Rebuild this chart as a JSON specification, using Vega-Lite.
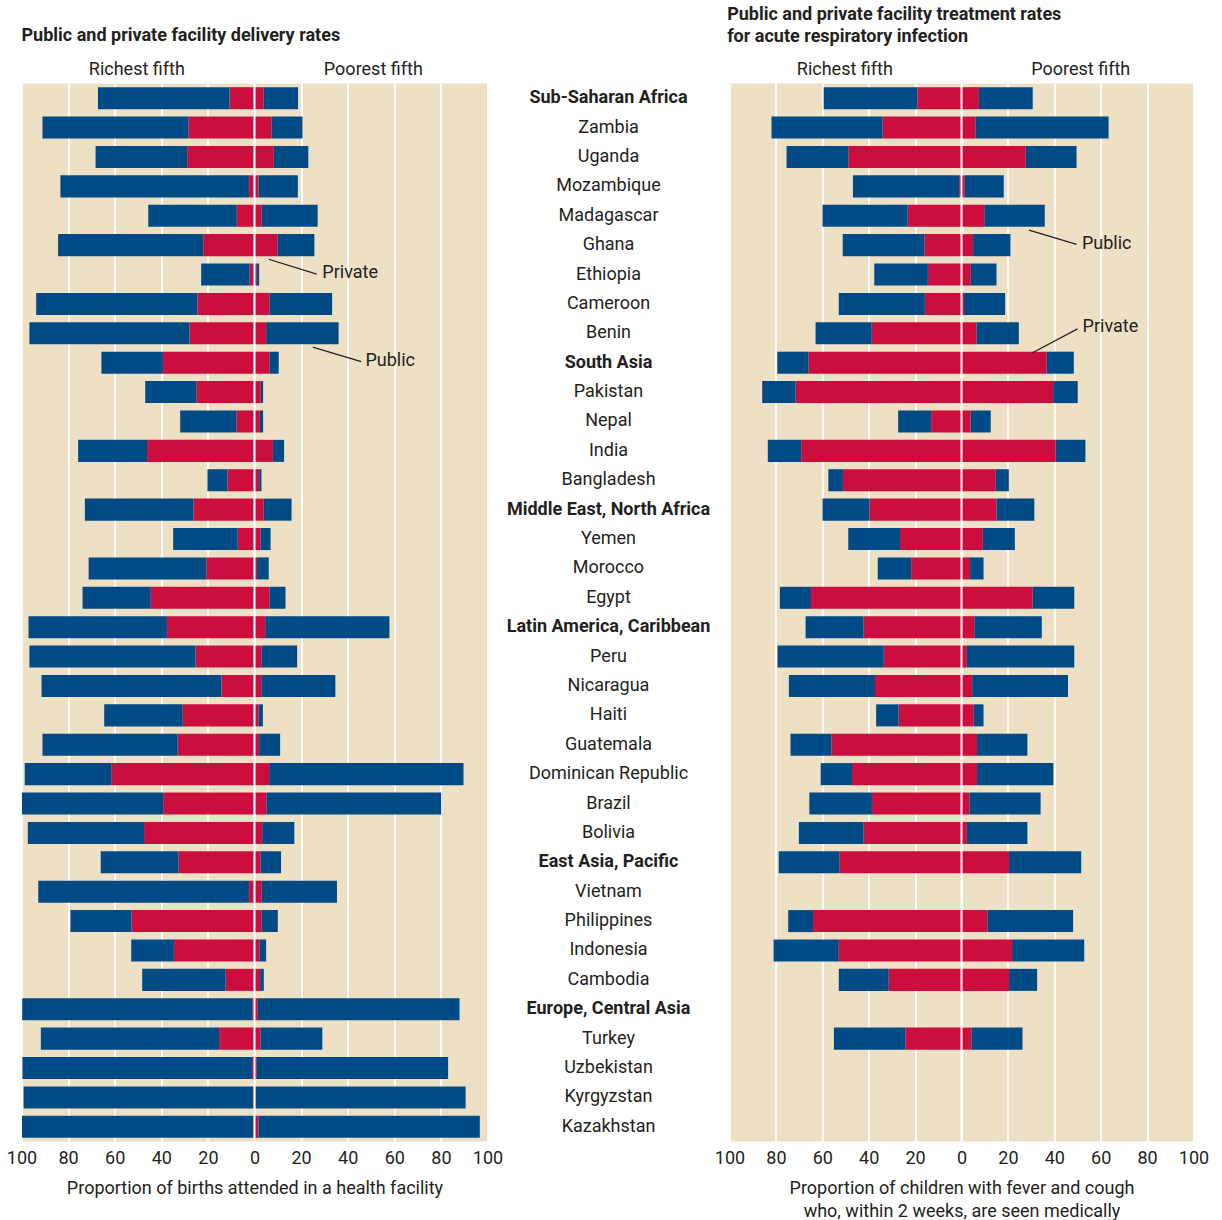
{
  "$schema": "https://vega.github.io/schema/vega-lite/v6.json",
  "padding": {"left": 5.5, "top": 5.5, "right": 4, "bottom": 4},
  "bounds": "flush",
  "spacing": 0,
  "background": "#FFFFFF",
  "config": {
    "font": "Roboto",
    "view": {"stroke": null},
    "axis": {"labelFont": "Roboto", "titleFont": "Roboto", "labelFontSize": 18, "labelColor": "#231F20", "titleFontSize": 18, "titleFontWeight": "normal", "titleColor": "#231F20"},
    "text": {"font": "Roboto", "fontSize": 18, "color": "#231F20"}
  },
  "datasets": {
    "names": [
      {"name": "Sub-Saharan Africa", "level": "region"},
      {"name": "Zambia", "level": "country"},
      {"name": "Uganda", "level": "country"},
      {"name": "Mozambique", "level": "country"},
      {"name": "Madagascar", "level": "country"},
      {"name": "Ghana", "level": "country"},
      {"name": "Ethiopia", "level": "country"},
      {"name": "Cameroon", "level": "country"},
      {"name": "Benin", "level": "country"},
      {"name": "South Asia", "level": "region"},
      {"name": "Pakistan", "level": "country"},
      {"name": "Nepal", "level": "country"},
      {"name": "India", "level": "country"},
      {"name": "Bangladesh", "level": "country"},
      {"name": "Middle East, North Africa", "level": "region"},
      {"name": "Yemen", "level": "country"},
      {"name": "Morocco", "level": "country"},
      {"name": "Egypt", "level": "country"},
      {"name": "Latin America, Caribbean", "level": "region"},
      {"name": "Peru", "level": "country"},
      {"name": "Nicaragua", "level": "country"},
      {"name": "Haiti", "level": "country"},
      {"name": "Guatemala", "level": "country"},
      {"name": "Dominican Republic", "level": "country"},
      {"name": "Brazil", "level": "country"},
      {"name": "Bolivia", "level": "country"},
      {"name": "East Asia, Pacific", "level": "region"},
      {"name": "Vietnam", "level": "country"},
      {"name": "Philippines", "level": "country"},
      {"name": "Indonesia", "level": "country"},
      {"name": "Cambodia", "level": "country"},
      {"name": "Europe, Central Asia", "level": "region"},
      {"name": "Turkey", "level": "country"},
      {"name": "Uzbekistan", "level": "country"},
      {"name": "Kyrgyzstan", "level": "country"},
      {"name": "Kazakhstan", "level": "country"}
    ],
    "delivery": [
      {"country": "Sub-Saharan Africa", "rich_private": -10.7, "rich_public": -56.5, "poor_private": 3.9, "poor_public": 14.8},
      {"country": "Zambia", "rich_private": -28.3, "rich_public": -62.7, "poor_private": 7.3, "poor_public": 13.3},
      {"country": "Uganda", "rich_private": -28.9, "rich_public": -39.3, "poor_private": 8.3, "poor_public": 14.8},
      {"country": "Mozambique", "rich_private": -2.4, "rich_public": -80.9, "poor_private": 1.7, "poor_public": 16.9},
      {"country": "Madagascar", "rich_private": -7.6, "rich_public": -38.0, "poor_private": 3.1, "poor_public": 24.0},
      {"country": "Ghana", "rich_private": -22.0, "rich_public": -62.3, "poor_private": 9.9, "poor_public": 15.8},
      {"country": "Ethiopia", "rich_private": -2.1, "rich_public": -20.8, "poor_private": 1.0, "poor_public": 1.0},
      {"country": "Cameroon", "rich_private": -24.5, "rich_public": -69.2, "poor_private": 6.4, "poor_public": 26.9},
      {"country": "Benin", "rich_private": -27.9, "rich_public": -68.7, "poor_private": 5.0, "poor_public": 31.1},
      {"country": "South Asia", "rich_private": -39.3, "rich_public": -26.4, "poor_private": 6.4, "poor_public": 4.0},
      {"country": "Pakistan", "rich_private": -24.9, "rich_public": -22.0, "poor_private": 2.7, "poor_public": 1.0},
      {"country": "Nepal", "rich_private": -7.7, "rich_public": -24.2, "poor_private": 2.3, "poor_public": 1.4},
      {"country": "India", "rich_private": -46.1, "rich_public": -29.6, "poor_private": 7.9, "poor_public": 4.8},
      {"country": "Bangladesh", "rich_private": -11.6, "rich_public": -8.6, "poor_private": 2.0, "poor_public": 1.0},
      {"country": "Middle East, North Africa", "rich_private": -26.2, "rich_public": -46.6, "poor_private": 3.9, "poor_public": 12.0},
      {"country": "Yemen", "rich_private": -7.2, "rich_public": -27.7, "poor_private": 2.6, "poor_public": 4.3},
      {"country": "Morocco", "rich_private": -20.7, "rich_public": -50.5, "poor_private": 1.1, "poor_public": 5.0},
      {"country": "Egypt", "rich_private": -44.5, "rich_public": -29.3, "poor_private": 6.4, "poor_public": 6.9},
      {"country": "Latin America, Caribbean", "rich_private": -37.6, "rich_public": -59.4, "poor_private": 4.6, "poor_public": 53.3},
      {"country": "Peru", "rich_private": -25.3, "rich_public": -71.3, "poor_private": 3.0, "poor_public": 15.3},
      {"country": "Nicaragua", "rich_private": -14.2, "rich_public": -77.2, "poor_private": 2.9, "poor_public": 31.8},
      {"country": "Haiti", "rich_private": -30.8, "rich_public": -33.7, "poor_private": 1.7, "poor_public": 1.9},
      {"country": "Guatemala", "rich_private": -33.0, "rich_public": -58.0, "poor_private": 2.0, "poor_public": 9.0},
      {"country": "Dominican Republic", "rich_private": -61.5, "rich_public": -37.1, "poor_private": 6.3, "poor_public": 83.4},
      {"country": "Brazil", "rich_private": -39.2, "rich_public": -60.6, "poor_private": 5.1, "poor_public": 75.0},
      {"country": "Bolivia", "rich_private": -47.4, "rich_public": -49.9, "poor_private": 3.3, "poor_public": 13.8},
      {"country": "East Asia, Pacific", "rich_private": -32.6, "rich_public": -33.4, "poor_private": 2.6, "poor_public": 8.8},
      {"country": "Vietnam", "rich_private": -2.4, "rich_public": -90.4, "poor_private": 3.1, "poor_public": 32.3},
      {"country": "Philippines", "rich_private": -52.8, "rich_public": -26.2, "poor_private": 3.0, "poor_public": 7.0},
      {"country": "Indonesia", "rich_private": -34.6, "rich_public": -18.3, "poor_private": 2.1, "poor_public": 2.9},
      {"country": "Cambodia", "rich_private": -12.4, "rich_public": -35.8, "poor_private": 2.4, "poor_public": 1.6},
      {"country": "Europe, Central Asia", "rich_private": -1.0, "rich_public": -98.7, "poor_private": 1.4, "poor_public": 86.6},
      {"country": "Turkey", "rich_private": -15.2, "rich_public": -76.5, "poor_private": 2.6, "poor_public": 26.5},
      {"country": "Uzbekistan", "rich_private": -1.1, "rich_public": -98.5, "poor_private": 1.0, "poor_public": 82.1},
      {"country": "Kyrgyzstan", "rich_private": -0.4, "rich_public": -98.7, "poor_private": 0.5, "poor_public": 90.1},
      {"country": "Kazakhstan", "rich_private": -0.4, "rich_public": -99.4, "poor_private": 1.7, "poor_public": 95.0}
    ],
    "treatment": [
      {"country": "Sub-Saharan Africa", "rich_private": -19.0, "rich_public": -40.4, "poor_private": 7.5, "poor_public": 23.2},
      {"country": "Zambia", "rich_private": -34.0, "rich_public": -47.9, "poor_private": 6.0, "poor_public": 57.4},
      {"country": "Uganda", "rich_private": -48.8, "rich_public": -26.6, "poor_private": 27.7, "poor_public": 21.9},
      {"country": "Mozambique", "rich_private": -1.0, "rich_public": -45.8, "poor_private": 1.4, "poor_public": 16.8},
      {"country": "Madagascar", "rich_private": -23.2, "rich_public": -36.7, "poor_private": 9.8, "poor_public": 26.1},
      {"country": "Ghana", "rich_private": -16.0, "rich_public": -35.2, "poor_private": 5.0, "poor_public": 16.1},
      {"country": "Ethiopia", "rich_private": -14.5, "rich_public": -23.1, "poor_private": 4.0, "poor_public": 11.1},
      {"country": "Cameroon", "rich_private": -15.8, "rich_public": -37.1, "poor_private": 1.1, "poor_public": 17.7},
      {"country": "Benin", "rich_private": -38.7, "rich_public": -24.2, "poor_private": 6.5, "poor_public": 18.2},
      {"country": "South Asia", "rich_private": -66.0, "rich_public": -13.4, "poor_private": 36.7, "poor_public": 11.7},
      {"country": "Pakistan", "rich_private": -71.5, "rich_public": -14.4, "poor_private": 39.5, "poor_public": 10.6},
      {"country": "Nepal", "rich_private": -13.1, "rich_public": -14.2, "poor_private": 3.9, "poor_public": 8.7},
      {"country": "India", "rich_private": -69.1, "rich_public": -14.4, "poor_private": 40.6, "poor_public": 12.8},
      {"country": "Bangladesh", "rich_private": -51.1, "rich_public": -6.3, "poor_private": 14.8, "poor_public": 5.6},
      {"country": "Middle East, North Africa", "rich_private": -39.7, "rich_public": -20.2, "poor_private": 15.1, "poor_public": 16.3},
      {"country": "Yemen", "rich_private": -26.5, "rich_public": -22.3, "poor_private": 9.2, "poor_public": 13.8},
      {"country": "Morocco", "rich_private": -21.7, "rich_public": -14.4, "poor_private": 3.7, "poor_public": 5.8},
      {"country": "Egypt", "rich_private": -64.9, "rich_public": -13.4, "poor_private": 30.7, "poor_public": 17.9},
      {"country": "Latin America, Caribbean", "rich_private": -42.2, "rich_public": -25.0, "poor_private": 5.5, "poor_public": 29.1},
      {"country": "Peru", "rich_private": -33.5, "rich_public": -45.8, "poor_private": 2.3, "poor_public": 46.3},
      {"country": "Nicaragua", "rich_private": -37.3, "rich_public": -37.1, "poor_private": 4.6, "poor_public": 41.3},
      {"country": "Haiti", "rich_private": -27.1, "rich_public": -9.7, "poor_private": 5.3, "poor_public": 4.2},
      {"country": "Guatemala", "rich_private": -56.1, "rich_public": -17.6, "poor_private": 6.7, "poor_public": 21.7},
      {"country": "Dominican Republic", "rich_private": -47.2, "rich_public": -13.5, "poor_private": 6.7, "poor_public": 32.9},
      {"country": "Brazil", "rich_private": -38.6, "rich_public": -27.0, "poor_private": 3.4, "poor_public": 30.7},
      {"country": "Bolivia", "rich_private": -42.2, "rich_public": -27.9, "poor_private": 2.3, "poor_public": 26.1},
      {"country": "East Asia, Pacific", "rich_private": -52.7, "rich_public": -26.1, "poor_private": 20.5, "poor_public": 31.1},
      {"country": "Philippines", "rich_private": -64.0, "rich_public": -10.7, "poor_private": 11.2, "poor_public": 36.9},
      {"country": "Indonesia", "rich_private": -52.9, "rich_public": -28.1, "poor_private": 21.8, "poor_public": 31.1},
      {"country": "Cambodia", "rich_private": -31.4, "rich_public": -21.5, "poor_private": 20.5, "poor_public": 12.1},
      {"country": "Turkey", "rich_private": -24.2, "rich_public": -30.8, "poor_private": 4.3, "poor_public": 22.0}
    ]
  },
  "hconcat": [
    {
      "width": 466,
      "height": 1058,
      "view": {"fill": "#EEE0C5"},
      "resolve": {"scale": {"y": "independent"}},
      "encoding": {
        "x": {"field": "value", "type": "quantitative", "scale": {"domain": [-100, 100], "nice": false, "zero": false},
              "axis": {"values": [-100, -80, -60, -40, -20, 0, 20, 40, 60, 80, 100], "labelExpr": "abs(datum.value)", "grid": true, "gridColor": "#FFFFFF", "gridWidth": 1.8, "domain": false, "ticks": false, "tickSize": 0, "labelFlush": false, "labelPadding": 8, "titlePadding": 12, "title": "Proportion of births attended in a health facility"}}
      },
      "layer": [
        {
          "data": {"name": "delivery"},
          "transform": [{"fold": ["rich_private", "rich_public", "poor_private", "poor_public"], "as": ["part", "value"]}],
          "mark": {"type": "bar"},
          "encoding": {
            "y": {"field": "country", "type": "nominal", "scale": {"domain": ["Sub-Saharan Africa","Zambia","Uganda","Mozambique","Madagascar","Ghana","Ethiopia","Cameroon","Benin","South Asia","Pakistan","Nepal","India","Bangladesh","Middle East, North Africa","Yemen","Morocco","Egypt","Latin America, Caribbean","Peru","Nicaragua","Haiti","Guatemala","Dominican Republic","Brazil","Bolivia","East Asia, Pacific","Vietnam","Philippines","Indonesia","Cambodia","Europe, Central Asia","Turkey","Uzbekistan","Kyrgyzstan","Kazakhstan"], "paddingInner": 0.25, "paddingOuter": 0.125}, "axis": null},
            "color": {"field": "part", "type": "nominal", "scale": {"domain": ["rich_private", "rich_public", "poor_private", "poor_public"], "range": ["#CC0E3E", "#004B86", "#CC0E3E", "#004B86"]}, "legend": null},
            "order": {"field": "part", "sort": "ascending"}
          }
        },
        {
          "data": {"values": [{"value": 0}]},
          "mark": {"type": "rule", "color": "#FFFFFF", "strokeWidth": 2}
        },
        {
          "data": {"values": [{"t": "Public and private facility delivery rates", "value": -100, "r": -1.6}]},
          "mark": {"type": "text", "align": "left", "baseline": "middle", "fontWeight": "bold"},
          "encoding": {
            "y": {"field": "r", "type": "quantitative", "scale": {"domain": [0, 36], "reverse": true, "nice": false, "zero": false}, "axis": null},
            "text": {"field": "t"}
          }
        },
        {
          "data": {"values": [{"t": "Richest fifth", "value": -50.5, "r": -0.47}, {"t": "Poorest fifth", "value": 51, "r": -0.47}]},
          "mark": {"type": "text", "align": "center", "baseline": "middle"},
          "encoding": {
            "y": {"field": "r", "type": "quantitative", "scale": {"domain": [0, 36], "reverse": true, "nice": false, "zero": false}, "axis": null},
            "text": {"field": "t"}
          }
        },
        {
          "data": {"values": [{"t": "Private", "value": 29.1, "r": 6.45}, {"t": "Public", "value": 47.6, "r": 9.44}]},
          "mark": {"type": "text", "align": "left", "baseline": "middle"},
          "encoding": {
            "y": {"field": "r", "type": "quantitative", "scale": {"domain": [0, 36], "reverse": true, "nice": false, "zero": false}, "axis": null},
            "text": {"field": "t"}
          }
        },
        {
          "data": {"values": [{"value": 6.1, "value2": 26.7, "r": 5.98, "r2": 6.49}, {"value": 25.0, "value2": 45.8, "r": 8.97, "r2": 9.46}]},
          "mark": {"type": "rule", "color": "#231F20", "strokeWidth": 1.3},
          "encoding": {
            "x2": {"field": "value2"},
            "y": {"field": "r", "type": "quantitative", "scale": {"domain": [0, 36], "reverse": true, "nice": false, "zero": false}, "axis": null},
            "y2": {"field": "r2"}
          }
        }
      ]
    },
    {
      "width": 242,
      "height": 1058,
      "data": {"name": "names"},
      "layer": [
        {
          "transform": [{"filter": "datum.level === 'region'"}],
          "mark": {"type": "text", "align": "center", "baseline": "middle", "fontWeight": "bold"},
          "encoding": {
            "y": {"field": "name", "type": "nominal", "scale": {"domain": ["Sub-Saharan Africa","Zambia","Uganda","Mozambique","Madagascar","Ghana","Ethiopia","Cameroon","Benin","South Asia","Pakistan","Nepal","India","Bangladesh","Middle East, North Africa","Yemen","Morocco","Egypt","Latin America, Caribbean","Peru","Nicaragua","Haiti","Guatemala","Dominican Republic","Brazil","Bolivia","East Asia, Pacific","Vietnam","Philippines","Indonesia","Cambodia","Europe, Central Asia","Turkey","Uzbekistan","Kyrgyzstan","Kazakhstan"], "paddingInner": 0.25, "paddingOuter": 0.125}, "axis": null},
            "x": {"datum": 0.5, "type": "quantitative", "scale": {"domain": [0, 1]}, "axis": null},
            "text": {"field": "name"}
          }
        },
        {
          "transform": [{"filter": "datum.level === 'country'"}],
          "mark": {"type": "text", "align": "center", "baseline": "middle"},
          "encoding": {
            "y": {"field": "name", "type": "nominal", "scale": {"domain": ["Sub-Saharan Africa","Zambia","Uganda","Mozambique","Madagascar","Ghana","Ethiopia","Cameroon","Benin","South Asia","Pakistan","Nepal","India","Bangladesh","Middle East, North Africa","Yemen","Morocco","Egypt","Latin America, Caribbean","Peru","Nicaragua","Haiti","Guatemala","Dominican Republic","Brazil","Bolivia","East Asia, Pacific","Vietnam","Philippines","Indonesia","Cambodia","Europe, Central Asia","Turkey","Uzbekistan","Kyrgyzstan","Kazakhstan"], "paddingInner": 0.25, "paddingOuter": 0.125}, "axis": null},
            "x": {"datum": 0.5, "type": "quantitative", "scale": {"domain": [0, 1]}, "axis": null},
            "text": {"field": "name"}
          }
        }
      ]
    },
    {
      "width": 464,
      "height": 1058,
      "view": {"fill": "#EEE0C5"},
      "resolve": {"scale": {"y": "independent"}},
      "encoding": {
        "x": {"field": "value", "type": "quantitative", "scale": {"domain": [-100, 100], "nice": false, "zero": false},
              "axis": {"values": [-100, -80, -60, -40, -20, 0, 20, 40, 60, 80, 100], "labelExpr": "abs(datum.value)", "grid": true, "gridColor": "#FFFFFF", "gridWidth": 1.8, "domain": false, "ticks": false, "tickSize": 0, "labelFlush": false, "labelPadding": 8, "titlePadding": 12, "titleLineHeight": 23, "title": ["Proportion of children with fever and cough", "who, within 2 weeks, are seen medically"]}}
      },
      "layer": [
        {
          "data": {"name": "treatment"},
          "transform": [{"fold": ["rich_private", "rich_public", "poor_private", "poor_public"], "as": ["part", "value"]}],
          "mark": {"type": "bar"},
          "encoding": {
            "y": {"field": "country", "type": "nominal", "scale": {"domain": ["Sub-Saharan Africa","Zambia","Uganda","Mozambique","Madagascar","Ghana","Ethiopia","Cameroon","Benin","South Asia","Pakistan","Nepal","India","Bangladesh","Middle East, North Africa","Yemen","Morocco","Egypt","Latin America, Caribbean","Peru","Nicaragua","Haiti","Guatemala","Dominican Republic","Brazil","Bolivia","East Asia, Pacific","Vietnam","Philippines","Indonesia","Cambodia","Europe, Central Asia","Turkey","Uzbekistan","Kyrgyzstan","Kazakhstan"], "paddingInner": 0.25, "paddingOuter": 0.125}, "axis": null},
            "color": {"field": "part", "type": "nominal", "scale": {"domain": ["rich_private", "rich_public", "poor_private", "poor_public"], "range": ["#CC0E3E", "#004B86", "#CC0E3E", "#004B86"]}, "legend": null},
            "order": {"field": "part", "sort": "ascending"}
          }
        },
        {
          "data": {"values": [{"value": 0}]},
          "mark": {"type": "rule", "color": "#FFFFFF", "strokeWidth": 2}
        },
        {
          "data": {"values": [{"t": "Public and private facility treatment rates", "value": -101, "r": -2.33}, {"t": "for acute respiratory infection", "value": -101, "r": -1.57}]},
          "mark": {"type": "text", "align": "left", "baseline": "middle", "fontWeight": "bold"},
          "encoding": {
            "y": {"field": "r", "type": "quantitative", "scale": {"domain": [0, 36], "reverse": true, "nice": false, "zero": false}, "axis": null},
            "text": {"field": "t"}
          }
        },
        {
          "data": {"values": [{"t": "Richest fifth", "value": -50.3, "r": -0.47}, {"t": "Poorest fifth", "value": 51.4, "r": -0.47}]},
          "mark": {"type": "text", "align": "center", "baseline": "middle"},
          "encoding": {
            "y": {"field": "r", "type": "quantitative", "scale": {"domain": [0, 36], "reverse": true, "nice": false, "zero": false}, "axis": null},
            "text": {"field": "t"}
          }
        },
        {
          "data": {"values": [{"t": "Public", "value": 51.9, "r": 5.46}, {"t": "Private", "value": 52.2, "r": 8.29}]},
          "mark": {"type": "text", "align": "left", "baseline": "middle"},
          "encoding": {
            "y": {"field": "r", "type": "quantitative", "scale": {"domain": [0, 36], "reverse": true, "nice": false, "zero": false}, "axis": null},
            "text": {"field": "t"}
          }
        },
        {
          "data": {"values": [{"value": 29.1, "value2": 49.6, "r": 4.99, "r2": 5.47}, {"value": 30.2, "value2": 50.0, "r": 9.18, "r2": 8.35}]},
          "mark": {"type": "rule", "color": "#231F20", "strokeWidth": 1.3},
          "encoding": {
            "x2": {"field": "value2"},
            "y": {"field": "r", "type": "quantitative", "scale": {"domain": [0, 36], "reverse": true, "nice": false, "zero": false}, "axis": null},
            "y2": {"field": "r2"}
          }
        }
      ]
    }
  ]
}
